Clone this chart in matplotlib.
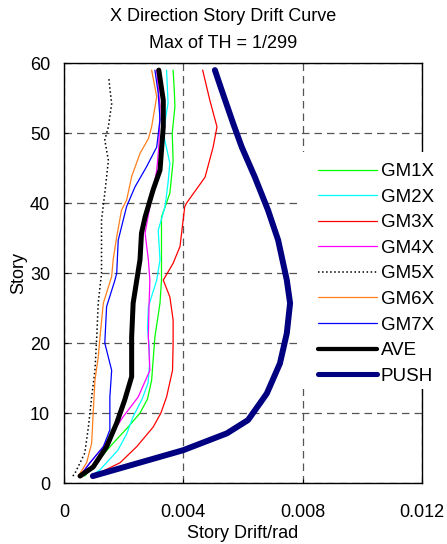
import matplotlib
matplotlib.use("Agg")
import matplotlib.pyplot as plt
from matplotlib.patches import Rectangle

plt.rcParams["font.family"] = ["Liberation Sans", "DejaVu Sans"]

# story drift per ground motion (story, drift in rad)
gm1x_story = [1, 3, 5.7, 8, 10, 12, 14.7, 17, 20.9, 25.7, 29, 33, 38, 41.4, 46, 50, 53.8, 56, 59]
gm1x_drift = [0.00070, 0.00110, 0.00165, 0.00215, 0.00255, 0.00280, 0.00294, 0.00298, 0.00305,
              0.00322, 0.00327, 0.00327, 0.00327, 0.00355, 0.00366, 0.00363, 0.00372, 0.00370, 0.00366]

gm2x_story = [1, 1.9, 4.7, 7, 9.5, 12, 14.3, 17, 19.5, 22, 25.2, 29, 31.9, 36.1, 39.5, 42.9, 45.7, 50, 54.3, 59]
gm2x_drift = [0.00090, 0.00121, 0.00181, 0.00210, 0.00232, 0.00262, 0.00282, 0.00287, 0.00286, 0.00280,
              0.00283, 0.00311, 0.00322, 0.00316, 0.00339, 0.00349, 0.00355, 0.00333, 0.00349, 0.00344]

gm3x_story = [1, 2.9, 5.2, 8, 10, 12.3, 16.1, 20, 23.3, 26.6, 29, 31.4, 33.8, 39.5, 40, 43.7, 48, 50.9, 54.7, 59]
gm3x_drift = [0.00097, 0.00188, 0.00244, 0.00299, 0.00325, 0.00344, 0.00364, 0.00366, 0.00366, 0.00355,
              0.00333, 0.00366, 0.00389, 0.00405, 0.00411, 0.00473, 0.00500, 0.00513, 0.00489, 0.00465]

gm4x_story = [1, 1.4, 5.2, 9.5, 12.3, 16.1, 18, 20.9, 25, 29, 31.9, 35.7, 39.5, 42, 44.7, 48, 53.8, 59]
gm4x_drift = [0.00050, 0.00059, 0.00132, 0.00199, 0.00249, 0.00288, 0.00286, 0.00283, 0.00285, 0.00288,
              0.00283, 0.00272, 0.00288, 0.00300, 0.00311, 0.00318, 0.00322, 0.00311]

gm5x_story = [1, 1.4, 4.3, 8, 12.3, 16.1, 20.9, 25.7, 30, 33.3, 37.6, 41.4, 46.1, 49, 50.9, 54.2, 56, 58]
gm5x_drift = [0.00030, 0.00037, 0.00070, 0.00082, 0.00093, 0.00104, 0.00110, 0.00115, 0.00126, 0.00126,
              0.00126, 0.00137, 0.00149, 0.00137, 0.00149, 0.00160, 0.00155, 0.00150]

gm6x_story = [1, 2.9, 5.7, 10, 14.7, 18, 20.9, 25.7, 29.5, 31.9, 35.2, 39, 40.4, 43.8, 47.1, 49.2, 50.9, 55.2, 59]
gm6x_drift = [0.00048, 0.00076, 0.00093, 0.00098, 0.00104, 0.00115, 0.00121, 0.00132, 0.00160, 0.00165,
              0.00177, 0.00193, 0.00210, 0.00227, 0.00255, 0.00283, 0.00294, 0.00311, 0.00294]

gm7x_story = [1, 2.9, 5.2, 7.6, 12.3, 16.1, 20, 25.2, 29, 30, 34.7, 39.5, 42.3, 45.2, 48, 51.9, 55.7, 59]
gm7x_drift = [0.00055, 0.00087, 0.00132, 0.00154, 0.00154, 0.00160, 0.00137, 0.00143, 0.00171, 0.00177,
              0.00182, 0.00210, 0.00238, 0.00277, 0.00311, 0.00322, 0.00316, 0.00305]

ave_story = [1, 2.3, 5.2, 8.6, 11.9, 15.2, 20.9, 25.7, 29.5, 31.9, 35.7, 38, 41.9, 44.7, 50.9, 54.7, 59]
ave_drift = [0.00054, 0.00098, 0.00143, 0.00177, 0.00204, 0.00227, 0.00227, 0.00232, 0.00246, 0.00255,
             0.00260, 0.00272, 0.00299, 0.00322, 0.00333, 0.00333, 0.00318]

push_story = [1, 4.7, 7.1, 9, 11.4, 12.8, 17.1, 21.4, 25.7, 29, 34.7, 39, 43.7, 48, 51.4, 56.1, 59]
push_drift = [0.00097, 0.00400, 0.00546, 0.00617, 0.00657, 0.00680, 0.00724, 0.00747, 0.00758, 0.00747,
              0.00718, 0.00684, 0.00640, 0.00596, 0.00567, 0.00529, 0.00506]

series = [
    ("GM1X", gm1x_story, gm1x_drift, "#00FF00", 0.9, "-"),
    ("GM2X", gm2x_story, gm2x_drift, "#00FFFF", 0.9, "-"),
    ("GM3X", gm3x_story, gm3x_drift, "#FF0000", 0.9, "-"),
    ("GM4X", gm4x_story, gm4x_drift, "#FF00FF", 0.9, "-"),
    ("GM5X", gm5x_story, gm5x_drift, "#000000", 1.1, ":"),
    ("GM6X", gm6x_story, gm6x_drift, "#FF7F1E", 0.9, "-"),
    ("GM7X", gm7x_story, gm7x_drift, "#0000FF", 0.9, "-"),
    ("AVE", ave_story, ave_drift, "#000000", 3.6, "-"),
    ("PUSH", push_story, push_drift, "#000080", 4.3, "-"),
]

fig = plt.figure(figsize=(4.47, 5.44), dpi=100)
ax = fig.add_axes([0.143, 0.112, 0.801, 0.772])

for name, st, dr, color, lw, ls in series:
    ax.plot(dr, st, color=color, lw=lw, linestyle=ls, label=name,
            solid_capstyle="round")

ax.set_xlim(0, 0.012)
ax.set_ylim(0, 60)
ax.set_xticks([0, 0.004, 0.008, 0.012])
ax.set_xticklabels(["0", "0.004", "0.008", "0.012"])
ax.set_yticks(range(0, 61, 10))
ax.tick_params(direction="in", length=3, width=0.8, labelsize=13)
ax.tick_params(axis="x", pad=15)
ax.tick_params(axis="y", pad=10)
ax.grid(True, color="#555555", linestyle=(0, (6, 4)), lw=0.9)
for sp in ax.spines.values():
    sp.set_linewidth(1.0)

ax.set_xlabel("Story Drift/rad", fontsize=13, labelpad=3)
ax.set_ylabel("Story", fontsize=13, labelpad=1.5)

fig.text(0.5, 0.970, "X Direction Story Drift Curve", ha="center", va="center", fontsize=13)
fig.text(0.5, 0.920, "Max of TH = 1/299", ha="center", va="center", fontsize=13)

# white area behind the legend, covers grid and right spine
ax.add_patch(Rectangle((0.659, 0.224), 0.40, 0.564, transform=ax.transAxes,
                       facecolor="white", edgecolor="none", zorder=3, clip_on=False))

handles, labels = ax.get_legend_handles_labels()
leg = ax.legend(handles, labels, loc="upper left", bbox_to_anchor=(0.709, 0.762),
                frameon=False, fontsize=13.5, handlelength=3.15, handletextpad=0.2,
                labelspacing=0.45, borderpad=0, borderaxespad=0)
leg.set_zorder(5)
for h in leg.get_lines():
    if h.get_linewidth() > 3:
        h.set_linewidth(h.get_linewidth() * 0.85)

fig.savefig("out.png", dpi=100)
